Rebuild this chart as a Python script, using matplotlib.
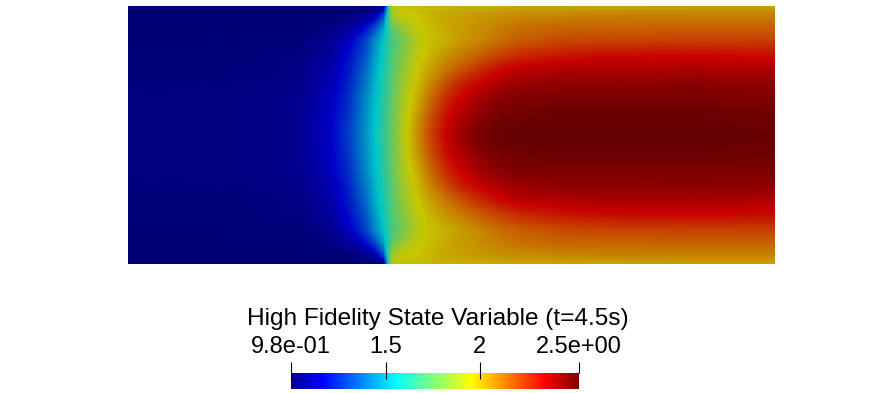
# High fidelity state variable field with a scalar bar

import numpy as np
import matplotlib
matplotlib.use("Agg")
import matplotlib.pyplot as plt
from matplotlib.cm import ScalarMappable
from matplotlib.colors import LinearSegmentedColormap, Normalize

plt.rcParams["font.family"] = ["Liberation Sans", "DejaVu Sans"]

W, H = 874, 393

x_pos = [0.0, 0.47, 0.665, 0.78, 0.858, 0.916, 0.954, 0.99, 1.005, 1.02, 1.05, 1.078,
         1.12, 1.167, 1.225, 1.283, 1.36, 1.438, 1.515, 1.67, 1.824, 2.21, 2.5]
y_pos = [1.0, 0.965, 0.915, 0.868, 0.81, 0.752, 0.694, 0.636, 0.566, 0.5,
         0.434, 0.364, 0.306, 0.248, 0.19, 0.132, 0.085, 0.035, 0.0]

row_1 = [1.0, 1.0, 1.0, 1.0, 1.0, 1.0, 1.01, 1.05, 1.5, 1.88, 1.97, 1.98, 1.98, 1.99, 2.0, 2.0, 2.0, 2.01, 2.02, 2.02, 2.02, 2.03, 2.03]
row_2 = [1.0, 1.0, 1.0, 1.01, 1.02, 1.05, 1.1, 1.3, 1.6, 1.85, 1.93, 1.95, 1.96, 1.99, 2.02, 2.03, 2.05, 2.06, 2.07, 2.08, 2.09, 2.09, 2.09]
row_3 = [1.01, 1.01, 1.01, 1.03, 1.08, 1.18, 1.3, 1.48, 1.62, 1.72, 1.82, 1.88, 1.94, 1.98, 2.01, 2.04, 2.07, 2.1, 2.13, 2.15, 2.15, 2.16, 2.16]
row_4 = [1.01, 1.01, 1.02, 1.05, 1.15, 1.28, 1.42, 1.55, 1.62, 1.68, 1.75, 1.82, 1.91, 1.97, 2.0, 2.04, 2.08, 2.13, 2.16, 2.2, 2.21, 2.22, 2.22]
row_5 = [1.01, 1.02, 1.03, 1.08, 1.19, 1.32, 1.46, 1.58, 1.64, 1.7, 1.78, 1.85, 1.93, 1.99, 2.05, 2.1, 2.16, 2.22, 2.26, 2.3, 2.32, 2.33, 2.32]
row_6 = [1.02, 1.02, 1.03, 1.1, 1.22, 1.36, 1.49, 1.6, 1.66, 1.71, 1.8, 1.88, 1.96, 2.03, 2.11, 2.18, 2.26, 2.33, 2.37, 2.39, 2.4, 2.4, 2.39]
row_7 = [1.02, 1.03, 1.04, 1.12, 1.24, 1.39, 1.51, 1.62, 1.67, 1.73, 1.82, 1.9, 1.98, 2.08, 2.19, 2.28, 2.35, 2.4, 2.43, 2.45, 2.45, 2.46, 2.45]
row_8 = [1.03, 1.03, 1.05, 1.14, 1.26, 1.42, 1.53, 1.63, 1.68, 1.74, 1.84, 1.92, 2.01, 2.13, 2.26, 2.34, 2.41, 2.46, 2.48, 2.49, 2.49, 2.49, 2.48]
row_9 = [1.03, 1.03, 1.06, 1.15, 1.28, 1.43, 1.54, 1.64, 1.69, 1.75, 1.85, 1.94, 2.05, 2.18, 2.31, 2.39, 2.46, 2.5, 2.51, 2.52, 2.52, 2.52, 2.51]
row_10 = [1.03, 1.03, 1.06, 1.16, 1.29, 1.44, 1.55, 1.65, 1.7, 1.76, 1.86, 1.95, 2.07, 2.2, 2.34, 2.42, 2.49, 2.52, 2.53, 2.53, 2.53, 2.53, 2.52]
state = np.array([row_1, row_2, row_3, row_4, row_5, row_6, row_7, row_8, row_9, row_10,
                  row_9, row_8, row_7, row_6, row_5, row_4, row_3, row_2, row_1])

tick_values = [0.995, 1.5, 2.0, 2.53]
tick_labels = ["9.8e-01", "1.5", "2", "2.5e+00"]
title = "High Fidelity State Variable (t=4.5s)"

jet_stops = [(0.0, (0, 0, 0.5625)), (0.111, (0, 0, 1)), (0.365, (0, 1, 1)), (0.492, (0.5, 1, 0.5)),
             (0.627, (1, 1, 0)), (0.754, (1, 0.5, 0)), (0.881, (1, 0, 0)), (1.0, (0.5, 0, 0))]
bar_cmap = LinearSegmentedColormap.from_list("pv_jet", jet_stops, N=512)
# surface is lit so it looks darker than the bar
shade = 0.78
surf_cmap = LinearSegmentedColormap.from_list(
    "pv_jet_lit", [(p, tuple(shade * c for c in rgb)) for p, rgb in jet_stops], N=512)
norm = Normalize(tick_values[0], tick_values[-1])

fig = plt.figure(figsize=(W / 100, H / 100), dpi=100)

ax = fig.add_axes([128 / W, 1 - 264 / H, 647 / W, 258 / H])
levels = np.linspace(tick_values[0], tick_values[-1], 300)
ax.contourf(x_pos, y_pos, state, levels=levels, cmap=surf_cmap, norm=norm, extend="both", antialiased=False)
ax.set_xlim(0, 2.5)
ax.set_ylim(0, 1)
ax.axis("off")

# scalar bar
cax = fig.add_axes([291 / W, 1 - 389 / H, 288 / W, 16.3 / H])
cb = fig.colorbar(ScalarMappable(norm=norm, cmap=bar_cmap), cax=cax, orientation="horizontal")
cb.outline.set_visible(False)
cb.set_ticks(tick_values, labels=tick_labels)
cax.xaxis.set_ticks_position("top")
cax.tick_params(axis="x", length=7.7, width=0.8, pad=3, labelsize=17, color="black")
cax.vlines(tick_values, 0.63, 1, color="black", lw=0.8)

fig.text(437.5 / W, 1 - 319 / H, title, ha="center", va="center", fontsize=17.6, color="black")

fig.savefig("out.png", dpi=100)
